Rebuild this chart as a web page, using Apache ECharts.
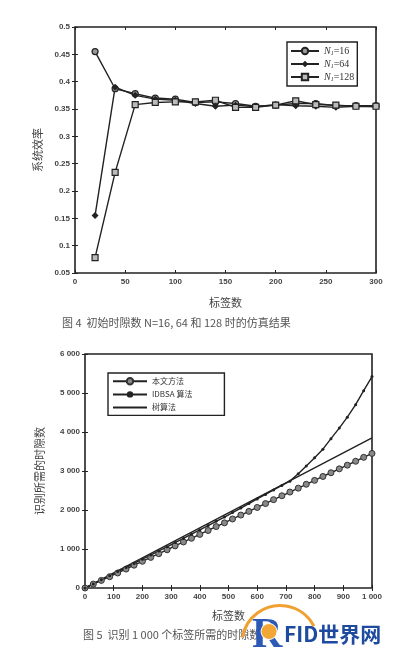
<!DOCTYPE html>
<html>
<head>
<meta charset="utf-8">
<script src="https://cdn.jsdelivr.net/npm/echarts@6/dist/echarts.min.js"></script>
<style>
html,body{margin:0;padding:0;background:#fff;}
#c{width:397px;height:651px;}
</style>
</head>
<body>
<div id="c"></div>
<script>
// ---------- Figure 4 data ----------
const tagCounts4 = [20,40,60,80,100,120,140,160,180,200,220,240,260,280,300];
const effN16  = [0.455,0.387,0.378,0.370,0.368,0.362,0.363,0.360,0.355,0.357,0.360,0.360,0.356,0.356,0.356];
const effN64  = [0.155,0.390,0.375,0.368,0.366,0.360,0.355,0.357,0.354,0.358,0.356,0.355,0.353,0.355,0.354];
const effN128 = [0.078,0.234,0.358,0.362,0.363,0.363,0.366,0.353,0.353,0.357,0.365,0.358,0.357,0.355,0.355];
const legend4 = ['N1=16','N1=64','N1=128'];

// ---------- Figure 5 data ----------
const tagCounts5 = [0,29,57,86,114,143,171,200,229,257,286,314,343,371,400,429,457,486,514,543,571,600,629,657,686,714,743,771,800,829,857,886,914,943,971,1000];
const slotsProposed = [0,100,195,290,385,485,585,685,785,880,980,1080,1180,1275,1375,1475,1575,1670,1770,1870,1965,2065,2165,2265,2365,2460,2560,2660,2760,2860,2955,3055,3150,3250,3350,3450];
const slotsIDBSA = [0,105,210,315,420,525,630,740,845,950,1055,1165,1270,1380,1490,1600,1710,1820,1935,2050,2165,2285,2400,2515,2630,2740,2930,3130,3340,3560,3830,4100,4380,4700,5060,5420];
const tagCountsTree = [0,100,200,300,400,500,600,700,800,900,1000];
const slotsTree = [0,385,770,1155,1540,1925,2310,2695,3080,3465,3850];
const legend5 = ['本文方法','IDBSA 算法','树算法'];

const yTicks4 = {min:0.05,max:0.5,interval:0.05};
const xTicks4 = {min:0,max:300,interval:50};
const yTicks5 = {min:0,max:6000,interval:1000};
const xTicks5 = {min:0,max:1000,interval:100};

const zip = (xs, ys) => xs.map((x,i)=>[x, ys[i]]);
const thou = v => { const s = String(Math.round(v)); return s.length>3 ? s.slice(0,-3)+' '+s.slice(-3) : s; };
const dec = v => String(+v.toFixed(2));

const INK = '#222';
const labelStyle = {fontSize:8, fontWeight:'bold', color:'#444', fontFamily:'Liberation Sans'};
const cjk = 'Noto Sans CJK SC';

function axisPair(gridIndex, t, isX, fmt, nameCfg){
  const base = {
    type:'value', gridIndex, min:t.min, max:t.max, interval:t.interval,
    axisLine:{show:false}, splitLine:{show:false},
    axisTick:{show:true, inside:true, length:3, lineStyle:{color:INK,width:1}},
  };
  const main = Object.assign({}, base, {
    position: isX ? 'bottom' : 'left',
    axisLabel: Object.assign({formatter:fmt, margin:5}, labelStyle)
  }, nameCfg);
  const mirror = Object.assign({}, base, {
    position: isX ? 'top' : 'right',
    axisLabel:{show:false}
  });
  return [main, mirror];
}

const chart = echarts.init(document.getElementById('c'));

const lineBase = {type:'line', lineStyle:{color:INK,width:1.4}, itemStyle:{color:INK}, animation:false, z:3};

const x4 = axisPair(0, xTicks4, true, v=>String(v), {name:'标签数', nameLocation:'middle', nameGap:24, nameTextStyle:{fontFamily:cjk,fontSize:11,color:'#444'}});
const y4 = axisPair(0, yTicks4, false, dec, {name:'系统效率', nameLocation:'middle', nameGap:31, nameRotate:90, nameTextStyle:{fontFamily:cjk,fontSize:11,color:'#444'}});
const x5 = axisPair(1, xTicks5, true, thou, {name:'标签数', nameLocation:'middle', nameGap:22, nameTextStyle:{fontFamily:cjk,fontSize:11,color:'#444'}});
const y5 = axisPair(1, yTicks5, false, thou, {name:'识别所需的时隙数', nameLocation:'middle', nameGap:40, nameRotate:90, nameTextStyle:{fontFamily:cjk,fontSize:11,color:'#444'}});

const legRich = {
  i:{fontStyle:'italic', fontFamily:'Liberation Serif', fontSize:10, color:'#333'},
  s:{fontStyle:'italic', fontFamily:'Liberation Serif', fontSize:6, color:'#333', verticalAlign:'bottom', padding:[4,0,0,0]},
  t:{fontFamily:'Liberation Serif', fontSize:10, color:'#333'}
};

chart.setOption({
  animation:false,
  backgroundColor:'#fff',
  grid:[
    {left:75, top:27, width:301, height:246, show:true, borderColor:INK, borderWidth:1.6, backgroundColor:'transparent'},
    {left:85, top:354, width:287, height:234, show:true, borderColor:INK, borderWidth:1.6, backgroundColor:'transparent'}
  ],
  xAxis:[x4[0], x4[1], x5[0], x5[1]],
  yAxis:[y4[0], y4[1], y5[0], y5[1]],
  legend:[
    {
      data:legend4, left:287, top:42, orient:'vertical', itemGap:3, itemWidth:28, itemHeight:8,
      padding:[4,3,4,3], borderColor:INK, borderWidth:1.4, backgroundColor:'#fff',
      formatter: n => { const m = n.match(/N1=(\d+)/); return '{i|N}{s|1}{t|=' + m[1] + '}'; },
      textStyle:{rich:legRich}
    },
    {
      data:[legend5[0], legend5[1], {name:legend5[2], itemStyle:{opacity:0}}],
      left:108, top:373, orient:'vertical', itemGap:5, itemWidth:34, itemHeight:8,
      padding:[4,32,4,4], borderColor:INK, borderWidth:1.4, backgroundColor:'#fff',
      textStyle:{fontFamily:cjk, fontSize:8, color:'#333'}
    }
  ],
  graphic:[
    {type:'text', left:62, top:317, style:{text:'图 4  初始时隙数 N=16, 64 和 128 时的仿真结果', font:'11px "Noto Sans CJK SC"', fill:'#555'}},
    {type:'text', left:83, top:629, style:{text:'图 5  识别 1 000 个标签所需的时隙数', font:'11px "Noto Sans CJK SC"', fill:'#555'}},
    // watermark logo
    {type:'group', left:240, top:603, children:[
      {type:'arc', shape:{cx:44, cy:30, r:38, startAngle:Math.PI*1.05, endAngle:Math.PI*1.85}, style:{stroke:'#f0a030', lineWidth:3, fill:null}},
      {type:'text', x:16, y:2, style:{text:'R', font:'bold 42px "Liberation Serif"', fill:'#2b59b5'}},
      {type:'circle', shape:{cx:33, cy:18, r:8}, style:{fill:'#f2a634', stroke:'#fff', lineWidth:1}},
      {type:'text', x:48, y:10, style:{text:'FID世界网', font:'bold 21px "Noto Sans CJK SC"', fill:'#1e4aa0'}},
      {type:'text', x:68, y:37, style:{text:'www.RfidWorld.com.cn', font:'bold 8px "Liberation Sans"', fill:'#b06a1a'}}
    ]}
  ],
  series:[
    Object.assign({}, lineBase, {name:legend4[0], xAxisIndex:0, yAxisIndex:0, data:zip(tagCounts4, effN16), symbol:'circle', symbolSize:6, itemStyle:{color:'#999', borderColor:INK, borderWidth:1.2}}),
    Object.assign({}, lineBase, {name:legend4[1], xAxisIndex:0, yAxisIndex:0, data:zip(tagCounts4, effN64), symbol:'diamond', symbolSize:7, itemStyle:{color:INK}}),
    Object.assign({}, lineBase, {name:legend4[2], xAxisIndex:0, yAxisIndex:0, data:zip(tagCounts4, effN128), symbol:'rect', symbolSize:6, itemStyle:{color:'#bbb', borderColor:INK, borderWidth:1.2}}),
    Object.assign({}, lineBase, {name:legend5[0], xAxisIndex:2, yAxisIndex:2, data:zip(tagCounts5, slotsProposed), symbol:'circle', symbolSize:6, itemStyle:{color:'#888', borderColor:'#333', borderWidth:1}}),
    Object.assign({}, lineBase, {name:legend5[1], xAxisIndex:2, yAxisIndex:2, data:zip(tagCounts5, slotsIDBSA), symbol:'circle', symbolSize:3, lineStyle:{color:INK,width:1.4}, itemStyle:{color:INK}}),
    Object.assign({}, lineBase, {name:legend5[2], xAxisIndex:2, yAxisIndex:2, data:zip(tagCountsTree, slotsTree), symbol:'none', showSymbol:false})
  ]
});
</script>
</body>
</html>
